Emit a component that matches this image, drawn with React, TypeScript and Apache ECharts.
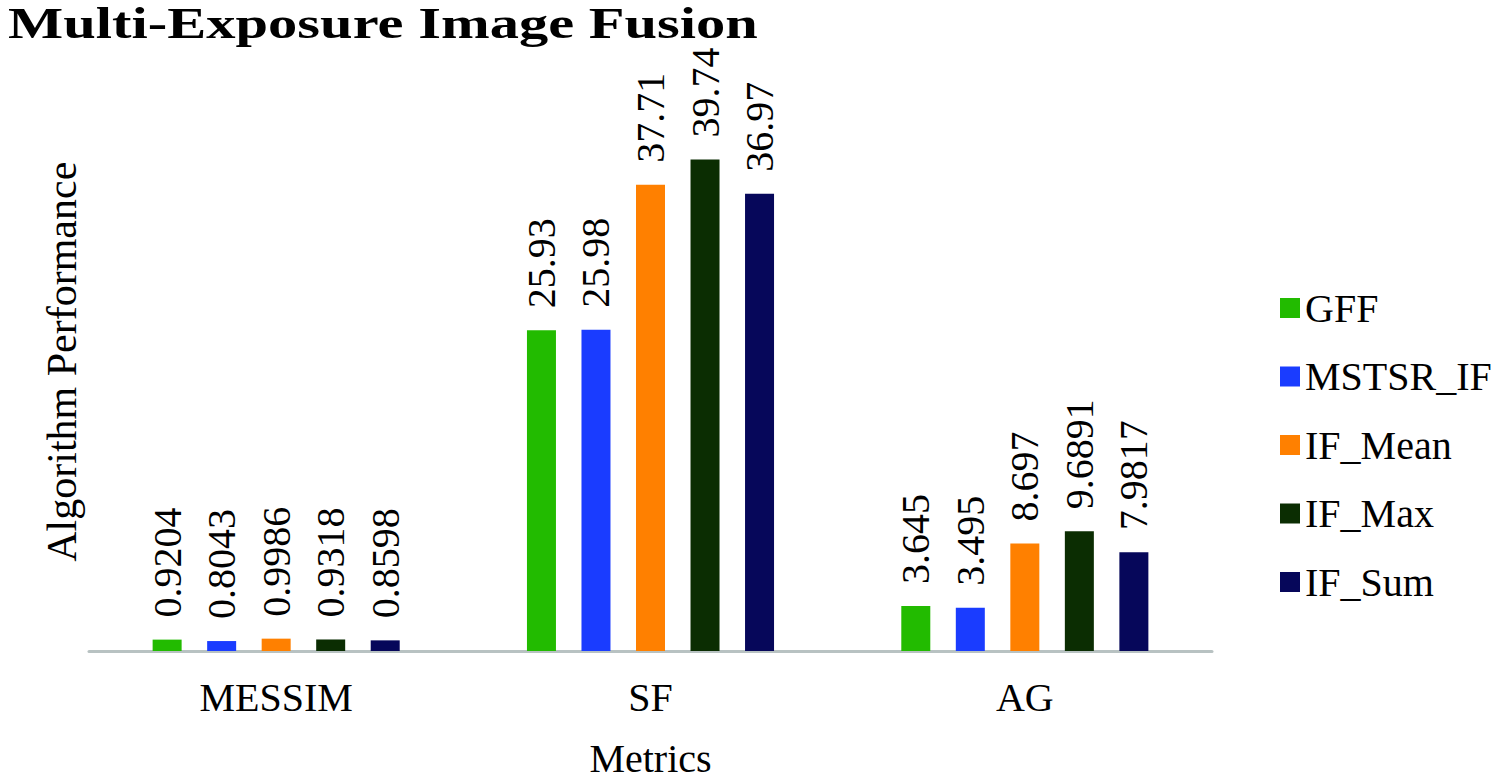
import React, { useEffect, useRef } from "react";
import * as echarts from "echarts";

const categories = ["MESSIM", "SF", "AG"];
const seriesNames = ["GFF", "MSTSR_IF", "IF_Mean", "IF_Max", "IF_Sum"];
const gff = [0.9204, 25.93, 3.645];
const mstsr = [0.8043, 25.98, 3.495];
const ifMean = [0.9986, 37.71, 8.697];
const ifMax = [0.9318, 39.74, 9.6891];
const ifSum = [0.8598, 36.97, 7.9817];
const colors = ["#22bb00", "#1a3cff", "#ff8000", "#0b2d02", "#06075a"];

const FONT = "Liberation Serif";

export default function App() {
  const ref = useRef<HTMLDivElement>(null);
  useEffect(() => {
    if (!ref.current) return;
    const chart = echarts.init(ref.current, null, { renderer: "svg" });
    const values = [gff, mstsr, ifMean, ifMax, ifSum];
    chart.setOption({
      animation: false,
      backgroundColor: "#ffffff",
      textStyle: { fontFamily: FONT },
      graphic: [
        {
          type: "text",
          left: 8,
          top: 1,
          scaleX: 1.33,
          style: {
            text: "Multi-Exposure Image Fusion",
            fontFamily: FONT,
            fontWeight: "bold",
            fontSize: 44,
            fill: "#000",
          },
        },
      ],
      legend: {
        orient: "vertical",
        left: 1275,
        top: 283,
        itemWidth: 20,
        itemHeight: 20,
        itemGap: 28.5,
        icon: "rect",
        textStyle: { fontFamily: FONT, fontSize: 40, color: "#000", lineHeight: 40 },
        data: seriesNames,
      },
      grid: { left: 89, right: 288, top: 94.5, bottom: 117, containLabel: false },
      xAxis: {
        type: "category",
        data: categories,
        axisLine: { lineStyle: { color: "#b8c2c2", width: 3 } },
        axisTick: { show: false },
        axisLabel: { fontFamily: FONT, fontSize: 40, color: "#000", margin: 26 },
        name: "Metrics",
        nameLocation: "middle",
        nameGap: 87,
        nameTextStyle: { fontFamily: FONT, fontSize: 40, color: "#000" },
      },
      yAxis: {
        type: "value",
        min: 0,
        max: 45,
        show: true,
        axisLine: { show: false },
        axisTick: { show: false },
        axisLabel: { show: false },
        splitLine: { show: false },
        name: "Algorithm Performance",
        nameLocation: "middle",
        nameGap: 6,
        nameTextStyle: {
          fontFamily: FONT,
          fontSize: 42,
          color: "#000",
          padding: [0, 0, 0, 22],
        },
      },
      series: seriesNames.map((n, i) => ({
        name: n,
        type: "bar",
        data: values[i],
        barWidth: 29,
        barGap: "88%",
        itemStyle: { color: colors[i] },
        label: {
          show: true,
          position: "top",
          rotate: 90,
          align: "left",
          verticalAlign: "middle",
          distance: 22,
          fontFamily: FONT,
          fontSize: 40,
          color: "#000",
          formatter: (p: any) => String(p.value),
        },
      })),
    });
    return () => chart.dispose();
  }, []);
  return (
    <div
      ref={ref}
      style={{ position: "fixed", left: 0, top: 0, width: 1500, height: 783 }}
    />
  );
}
